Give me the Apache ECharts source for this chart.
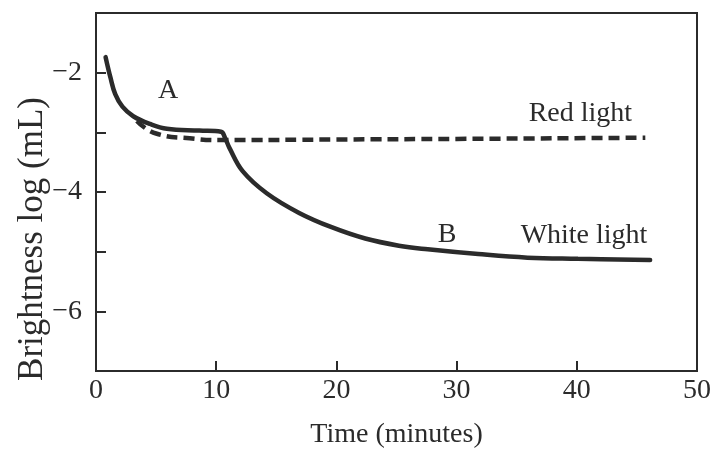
<!DOCTYPE html>
<html>
<head>
<meta charset="utf-8">
<script src="https://cdn.jsdelivr.net/npm/echarts@6/dist/echarts.min.js"></script>
<style>
  html, body { margin: 0; padding: 0; background: #fff; }
  #main { width: 714px; height: 454px; }
</style>
</head>
<body>
<div id="main"></div>
<script>
// white light curve (time in minutes, log brightness)
var whiteT = [0.8, 1.2, 1.6, 2.2, 3.1, 4.5, 5.9, 8.6, 10.4, 10.75, 11.1, 12.2, 14.2, 16.9, 19.6, 22.4, 25.2, 27.6, 31.8, 35.9, 40.1, 46.1];
var whiteV = [-1.74, -2.08, -2.36, -2.57, -2.73, -2.86, -2.94, -2.97, -2.99, -3.10, -3.26, -3.65, -4.02, -4.35, -4.59, -4.78, -4.90, -4.96, -5.04, -5.10, -5.12, -5.14];
// red light curve
var redT = [3.4, 5.0, 7.8, 10.4, 20, 30, 45.7];
var redV = [-2.81, -3.02, -3.10, -3.13, -3.12, -3.11, -3.09];
// annotations
var annNames = ['A', 'B', 'Red light', 'White light'];
var annT = [6.0, 29.2, 40.3, 40.6];
var annV = [-2.30, -4.71, -2.69, -4.73];
var yTickLabels = { '-2': '\u22122', '-4': '\u22124', '-6': '\u22126' };

var ink = '#2b2b2b';
var font = '"Liberation Serif", "Times New Roman", serif';

function pairs(xs, ys) {
    return xs.map(function (x, i) { return [x, ys[i]]; });
}

var chart = echarts.init(document.getElementById('main'));
var option = {
    backgroundColor: '#fff',
    animation: false,
    grid: {
        left: 96, right: 17, top: 13, bottom: 70,
        show: true, borderColor: ink, borderWidth: 2
    },
    xAxis: {
        type: 'value', min: 0, max: 50, interval: 10,
        name: 'Time (minutes)', nameLocation: 'middle', nameGap: 50,
        nameTextStyle: { fontFamily: font, fontSize: 28, color: ink },
        axisLine: { show: true, lineStyle: { color: ink, width: 2 } },
        axisTick: { inside: true, length: 10, lineStyle: { color: ink, width: 2 } },
        axisLabel: { fontFamily: font, fontSize: 28, color: ink, margin: 6 },
        splitLine: { show: false }
    },
    yAxis: {
        type: 'value', min: -7, max: -1, interval: 1,
        axisLine: { show: true, lineStyle: { color: ink, width: 2 } },
        axisTick: { inside: true, length: 10, lineStyle: { color: ink, width: 2 } },
        axisLabel: {
            fontFamily: font, fontSize: 28, color: ink, margin: 14,
            formatter: function (v) { return yTickLabels[String(v)] || ''; }
        },
        splitLine: { show: false }
    },
    graphic: [{
        type: 'text',
        x: 33, y: 239, rotation: Math.PI / 2,
        style: {
            text: 'Brightness log (mL)', fontFamily: font, fontSize: 35,
            fill: ink, align: 'center', verticalAlign: 'middle'
        }
    }],
    series: [
        {
            name: 'White light', type: 'line', data: pairs(whiteT, whiteV),
            showSymbol: false, smooth: 0.4,
            lineStyle: { color: ink, width: 4.5, cap: 'round' }
        },
        {
            name: 'Red light', type: 'line', data: pairs(redT, redV),
            showSymbol: false, smooth: 0.5,
            lineStyle: { color: ink, width: 4.5, type: [11, 6] }
        },
        {
            name: 'labels', type: 'scatter', symbolSize: 0,
            itemStyle: { color: ink, opacity: 1 },
            data: annNames.map(function (n, i) { return { name: n, value: [annT[i], annV[i]] }; }),
            label: {
                show: true, position: 'inside', formatter: '{b}',
                fontFamily: font, fontSize: 28, color: ink, opacity: 1
            }
        }
    ]
};
option && chart.setOption(option);
</script>
</body>
</html>
